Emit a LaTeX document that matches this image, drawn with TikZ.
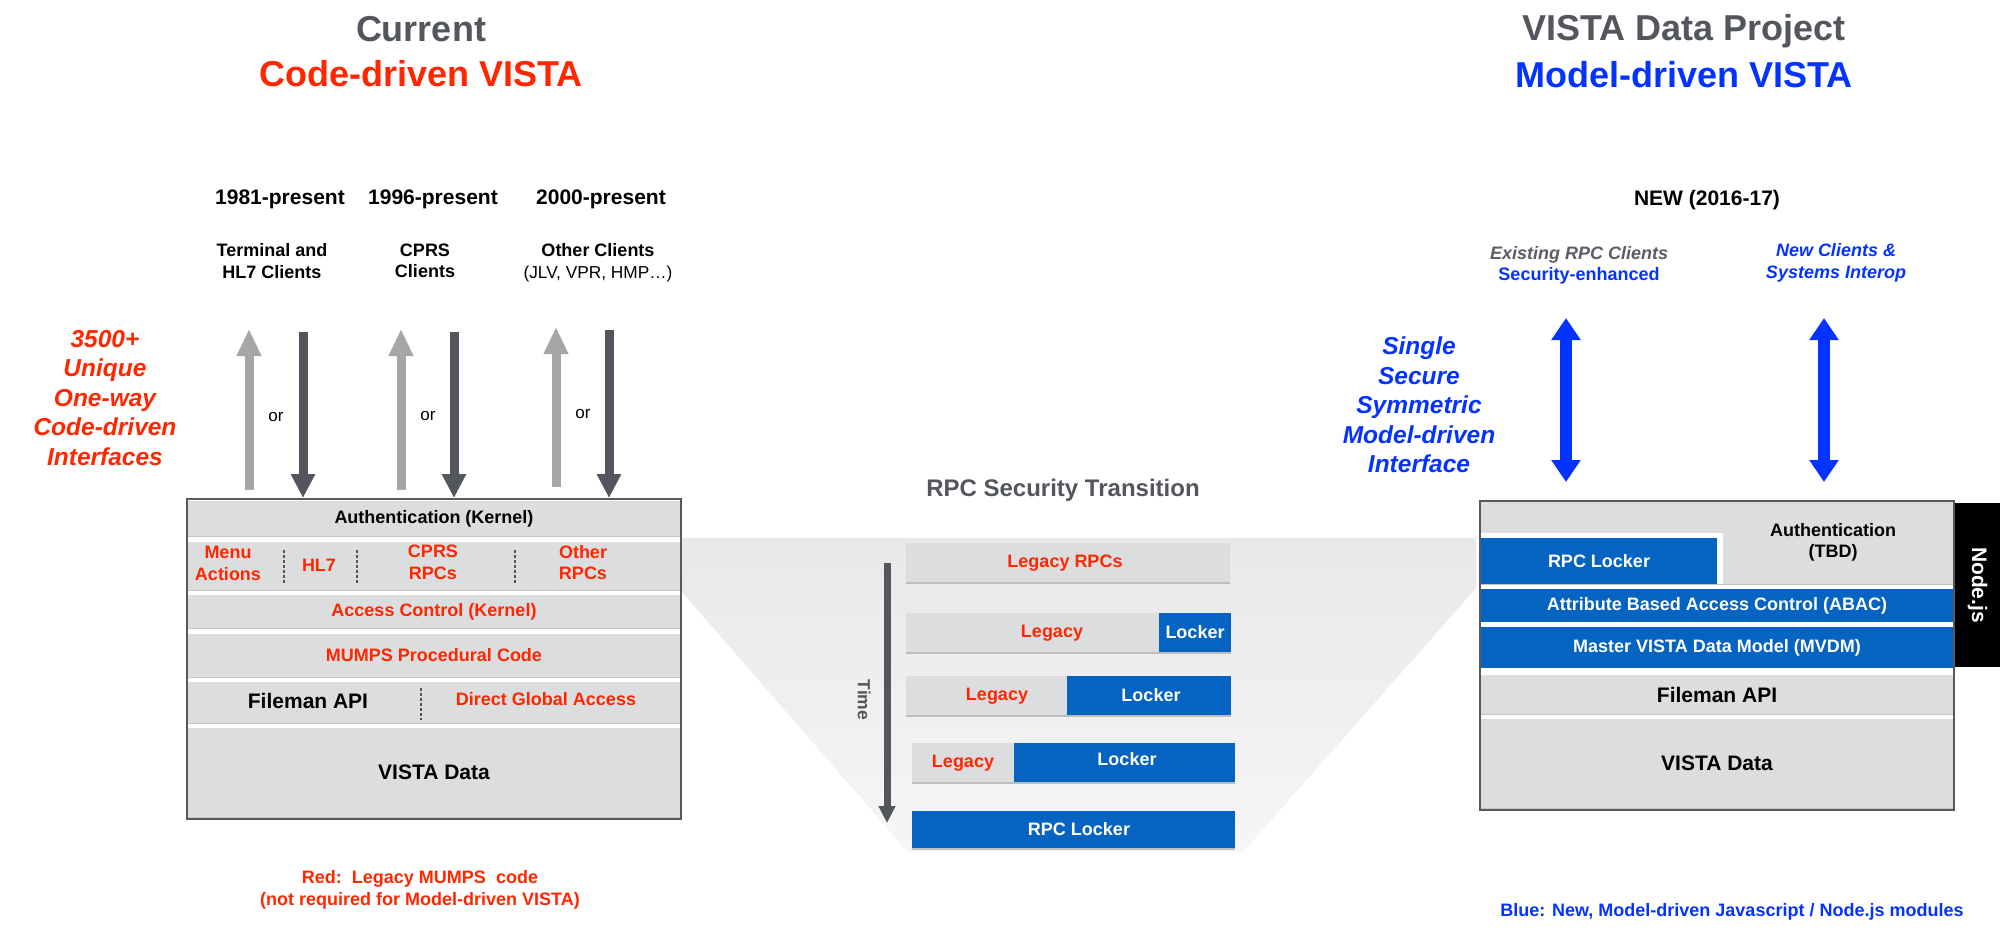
\documentclass[tikz,border=0pt]{standalone}
\usepackage{fontspec}
\setmainfont{Liberation Sans}
\usetikzlibrary{arrows.meta}
\definecolor{rowgray}{HTML}{DCDDDF}
\definecolor{rowline}{HTML}{C4C5C8}
\definecolor{shadowgray}{HTML}{BDBEC0}
\definecolor{dgray}{HTML}{53565C}
\definecolor{lgray}{HTML}{A6A6A6}
\definecolor{vred}{HTML}{FF2600}
\definecolor{vblue}{HTML}{0433FF}
\definecolor{mblue}{HTML}{0563C1}
\definecolor{framegray}{HTML}{58595B}
\definecolor{titlegray}{HTML}{53575D}
\definecolor{egray}{HTML}{5A5E64}
\definecolor{funA}{HTML}{E8E8E9}
\definecolor{funB}{HTML}{F6F6F6}
\tikzset{
  every node/.style={inner sep=0pt, outer sep=0pt},
  ttl/.style={font=\bfseries\fontsize{36}{40}\selectfont},
  hdr/.style={font=\bfseries\fontsize{21}{25}\selectfont},
  lbl/.style={font=\bfseries\fontsize{18}{21.5}\selectfont, align=center},
  side/.style={font=\bfseries\itshape\fontsize{24.5}{29.5}\selectfont, align=center},
  ortxt/.style={font=\fontsize{17}{20}\selectfont},
  btxt/.style={font=\bfseries\fontsize{18}{21}\selectfont},
  bigtxt/.style={font=\bfseries\fontsize{21}{25}\selectfont},
  rowbox/.style={anchor=north west, fill=rowgray,
     preaction={fill=rowline, transform canvas={yshift=-1pt}},
     font=\bfseries\fontsize{18}{21}\selectfont, align=center},
  bluebox/.style={anchor=north west, fill=mblue, text=white,
     font=\bfseries\fontsize{18}{21}\selectfont, align=center},
  frame/.style={anchor=north west, draw=framegray, line width=2pt},
  bar/.style={anchor=north west, fill=rowgray,
     preaction={fill=shadowgray, transform canvas={yshift=-1.5pt}}},
  barblue/.style={anchor=north west, fill=mblue},
  sepline/.style={draw=dgray, line width=1.3pt, dash pattern=on 2.5pt off 2.5pt},
  uparr/.style={draw=lgray, line width=9pt, -{Triangle[width=23pt,length=27pt]}},
  downarr/.style={draw=dgray, line width=9pt, -{Triangle[width=23pt,length=24pt]}},
  dblarr/.style={draw=vblue, line width=12pt, {Triangle[width=28pt,length=22pt]}-{Triangle[width=28pt,length=22pt]}},
  timearr/.style={draw=dgray, line width=7pt, -{Triangle[width=16pt,length=17pt]}},
}
\begin{document}
\begin{tikzpicture}[x=1pt,y=-1pt]
\useasboundingbox (0,0) rectangle (2000,948);
\fill[white] (0,0) rectangle (2000,948);

% ---------- titles
\node[ttl, text=titlegray] (curT) at (421,29) {Current};
\node[ttl, text=vred] (codeT) at (421,74) {Code-driven VISTA};
\node[ttl, text=titlegray] (projT) at (1684,31) {VISTA Data Project};
\node[ttl, text=vblue] (modelT) at (1684,75) {Model-driven VISTA};

% ---------- left column headers
\node[hdr] (y1981) at (280,199) {1981-present};
\node[hdr] (y1996) at (433,199) {1996-present};
\node[hdr] (y2000) at (601,199) {2000-present};
\node[lbl] (cl1) at (272,261) {Terminal and\\HL7 Clients};
\node[lbl] (cl2) at (425,261) {CPRS\\Clients};
\node[lbl] (cl3) at (598,263) {Other Clients\\{\mdseries\fontsize{17.3}{21.5}\selectfont (JLV, VPR, HMP…)}};

\node[side, text=vred] (ifc) at (105,398) {3500+\\Unique\\One-way\\Code-driven\\Interfaces};

% ---------- funnel
\shade[top color=funA, bottom color=funB] (682,538) -- (1476,538) -- (1476,588) -- (1243,852) -- (908,852) -- (682,592) -- cycle;
\node[font=\bfseries\fontsize{24}{28}\selectfont, text=titlegray] (rpcT) at (1063,490) {RPC Security Transition};

% ---------- left box
\node[rowbox, minimum width=492pt, minimum height=35pt] (lauth) at (188,501) {Authentication (Kernel)};
\node[rowbox, minimum width=492pt, minimum height=48pt] (lrpc) at (188,542) {};
\node[rowbox, text=vred, minimum width=492pt, minimum height=33pt] (lacc) at (188,595) {Access Control (Kernel)};
\node[rowbox, text=vred, minimum width=492pt, minimum height=43pt] (lmumps) at (188,634) {MUMPS Procedural Code};
\node[rowbox, minimum width=492pt, minimum height=41pt] (lfile) at (188,682) {};
\node[rowbox, bigtxt, minimum width=492pt, minimum height=89pt] (ldata) at (188,728) {VISTA Data};
\node[frame, minimum width=494pt, minimum height=320pt] (lbox) at (187,499) {};

\node[lbl, text=vred] (menu) at (228,563.5) {Menu\\Actions};
\node[btxt, text=vred] (hl7) at (319,565) {HL7};
\node[lbl, text=vred] (cprs) at (433,562.5) {CPRS\\RPCs};
\node[lbl, text=vred] (other) at (583,562.5) {Other\\RPCs};
\draw[sepline] (284,550) -- (284,583);
\draw[sepline] (357,550) -- (357,583);
\draw[sepline] (515,550) -- (515,583);
\node[bigtxt] (lfm) at (308,701) {Fileman API};
\node[btxt, text=vred] (dga) at (546,699) {Direct Global Access};
\draw[sepline] (421,688) -- (421,720);

% ---------- client arrows
\coordinate (u1b) at (249,490); \coordinate (u1t) at (249,329);
\coordinate (u2b) at (401,490); \coordinate (u2t) at (401,329);
\coordinate (u3b) at (556,487); \coordinate (u3t) at (556,327);
\coordinate (d1t) at (303,332); \coordinate (d1b) at (303,498);
\coordinate (d2t) at (454,332); \coordinate (d2b) at (454,498);
\coordinate (d3t) at (609,330); \coordinate (d3b) at (609,498);
\draw[uparr] (u1b) -- (u1t);
\draw[uparr] (u2b) -- (u2t);
\draw[uparr] (u3b) -- (u3t);
\draw[downarr] (d1t) -- (d1b);
\draw[downarr] (d2t) -- (d2b);
\draw[downarr] (d3t) -- (d3b);
\node[ortxt] (or1) at (276,417) {or};
\node[ortxt] (or2) at (428,416) {or};
\node[ortxt] (or3) at (583,414) {or};

% ---------- transition bars
\coordinate (t0) at (887,563); \coordinate (t1) at (887,823);
\draw[timearr] (t0) -- (t1);
\node[font=\bfseries\fontsize{17.5}{20}\selectfont, text=dgray, rotate=-90] (timeL) at (864,700) {Time};

\node[bar, minimum width=324pt, minimum height=39pt] (b1) at (906,543) {};
\node[btxt, text=vred] (b1t) at (1065,563) {Legacy RPCs};

\node[bar, minimum width=325pt, minimum height=39pt] (b2) at (906,613) {};
\node[barblue, minimum width=72pt, minimum height=39pt] (b2l) at (1159,613) {};
\node[btxt, text=vred] (b2t) at (1052,633) {Legacy};
\node[btxt, text=white] (b2u) at (1195,632) {Locker};

\node[bar, minimum width=325pt, minimum height=39pt] (b3) at (906,676) {};
\node[barblue, minimum width=164pt, minimum height=39pt] (b3l) at (1067,676) {};
\node[btxt, text=vred] (b3t) at (997,696) {Legacy};
\node[btxt, text=white] (b3u) at (1151,695) {Locker};

\node[bar, minimum width=323pt, minimum height=39pt] (b4) at (912,743) {};
\node[barblue, minimum width=221pt, minimum height=39pt] (b4l) at (1014,743) {};
\node[btxt, text=vred] (b4t) at (963,763) {Legacy};
\node[btxt, text=white] (b4u) at (1127,759) {Locker};

\node[barblue, minimum width=323pt, minimum height=37pt, preaction={fill=shadowgray, transform canvas={yshift=-1.5pt}}] (b5) at (912,811) {};
\node[btxt, text=white] (b5t) at (1079,829) {RPC Locker};

% ---------- right header texts
\node[hdr] (newT) at (1707,200) {NEW (2016-17)};
\node[lbl] (exist) at (1579,265.5) {{\itshape\color{egray}Existing RPC Clients}\\{\color{vblue}Security-enhanced}};
\node[lbl, font=\bfseries\itshape\fontsize{18}{22}\selectfont, text=vblue] (newcl) at (1836,263) {New Clients \&\\Systems Interop};
\node[side, text=vblue] (single) at (1419,405) {Single\\Secure\\Symmetric\\Model-driven\\Interface};
\coordinate (e1t) at (1566,318); \coordinate (e1b) at (1566,482);
\coordinate (e2t) at (1824,318); \coordinate (e2b) at (1824,482);
\draw[dblarr] (e1b) -- (e1t);
\draw[dblarr] (e2b) -- (e2t);

% ---------- right box
\node[rowbox, minimum width=472pt, minimum height=82pt] (rauth) at (1481,502) {};
\fill[white] (1481,533) rectangle (1723,584);
\node[bluebox, minimum width=236pt, minimum height=46pt] (rlock) at (1481,538) {RPC Locker};
\node[lbl] (rauthT) at (1833,542.5) {Authentication\\(TBD)};
\node[bluebox, minimum width=472pt, minimum height=33pt] (abac) at (1481,589) {Attribute Based Access Control (ABAC)};
\node[bluebox, minimum width=472pt, minimum height=41pt] (mvdm) at (1481,627) {Master VISTA Data Model (MVDM)};
\node[rowbox, bigtxt, minimum width=472pt, minimum height=39pt] (rfile) at (1481,675) {Fileman API};
\node[rowbox, bigtxt, minimum width=472pt, minimum height=89pt] (rdata) at (1481,719) {VISTA Data};
\node[frame, minimum width=474pt, minimum height=309pt] (rbox) at (1480,501) {};
\node[anchor=north west, fill=black, minimum width=45pt, minimum height=164pt] (njs) at (1955,503) {};
\node[font=\bfseries\fontsize{21}{25}\selectfont, text=white, rotate=-90] (njsT) at (njs.center) {Node.js};

% ---------- notes
\node[lbl, text=vred] (rednote) at (420,890) {Red:\ \ Legacy MUMPS\ \ code\\(not required for Model-driven VISTA)};
\node[btxt, text=vblue] (bluenote) at (1732,912) {Blue: New, Model-driven Javascript / Node.js modules};
\end{tikzpicture}
\end{document}
